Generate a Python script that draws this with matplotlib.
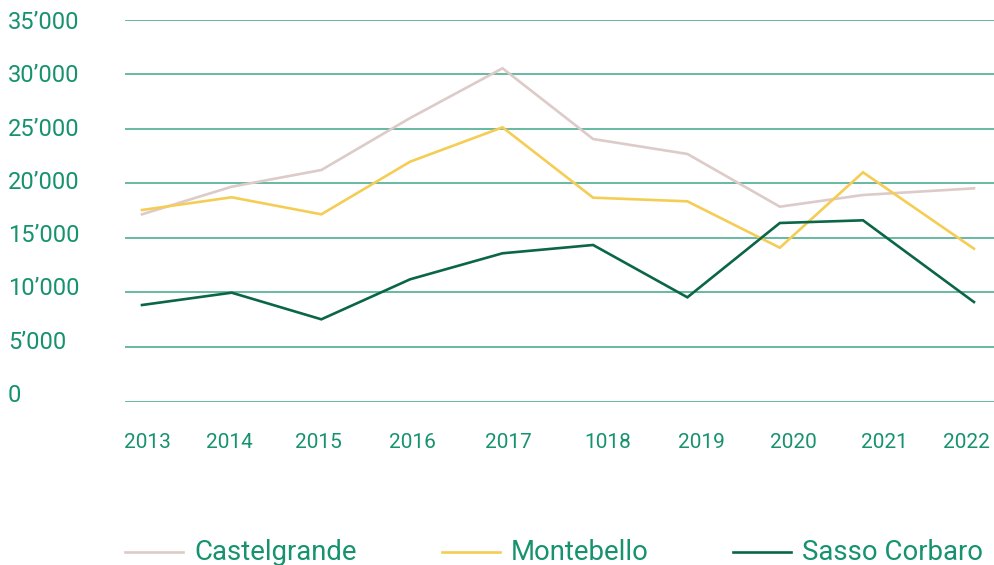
import matplotlib
matplotlib.use("Agg")
import matplotlib.pyplot as plt
from matplotlib.lines import Line2D

# Dati (visitatori per castello)
anni = ["2013", "2014", "2015", "2016", "2017", "1018", "2019", "2020", "2021", "2022"]
# posizioni orizzontali (in "anni")
x_punti = [2013.0, 2013.97, 2014.94, 2015.90, 2016.90, 2017.88, 2018.90, 2019.90, 2020.80, 2022.0]
x_etichette = [2013.06, 2013.94, 2014.91, 2015.93, 2016.96, 2018.04, 2019.05, 2020.05, 2021.03, 2021.92]

castelgrande = [17150, 19680, 21210, 25970, 30530, 24050, 22680, 17850, 18920, 19530]
montebello = [17545, 18710, 17150, 21970, 25120, 18675, 18340, 14090, 21000, 14000]
sasso_corbaro = [8840, 9970, 7530, 11195, 13580, 14340, 9545, 16355, 16600, 9115]

serie = ["Castelgrande", "Montebello", "Sasso Corbaro"]
colori = ["#dccbc8", "#f5cd55", "#0b6647"]

y_ticks = [0, 5000, 10000, 15000, 20000, 25000, 30000, 35000]
y_labels = ["0", "5’000", "10’000", "15’000", "20’000", "25’000", "30’000", "35’000"]

TESTO = "#16926f"
GRIGLIA = "#3fa688"

plt.rcParams["font.family"] = ["Roboto", "DejaVu Sans"]

fig = plt.figure(figsize=(9.94, 5.65), dpi=100)
W, H = 994, 565
ax = fig.add_axes([125 / W, (H - 401.5) / H, (994 - 125) / W, 382 / H])

for valori, colore in zip([castelgrande, montebello, sasso_corbaro], colori):
    ax.plot(x_punti, valori, color=colore, linewidth=1.9, solid_joinstyle="miter", zorder=3)

ax.set_ylim(0, 35000)
ax.set_xlim(2012.816, 2022.217)

for v in y_ticks:
    ax.axhline(v, color=GRIGLIA, linewidth=1.1, zorder=1)

for s in ax.spines.values():
    s.set_visible(False)
ax.set_yticks([])
ax.set_xticks(x_etichette)
ax.set_xticklabels(anni, color=TESTO, fontsize=15)
ax.tick_params(axis="x", length=0, pad=23)

# etichette asse y: leggermente più strette rispetto alla griglia
for v, lab in zip(y_ticks, y_labels):
    ax.text(-117 / 869, (779 + 0.9764 * v) / 35000 - 2.5 / 382, lab, transform=ax.transAxes,
            ha="left", va="center", color=TESTO, fontsize=17, clip_on=False)

# legenda manuale
leg_x = [125, 442, 733]
for nome, colore, x0 in zip(serie, colori, leg_x):
    fig.add_artist(Line2D([x0 / W, (x0 + 58) / W], [(H - 551.5) / H] * 2,
                          color=colore, linewidth=1.9, transform=fig.transFigure))
    fig.text((x0 + 69) / W, (H - 559.5) / H, nome, color=TESTO, fontsize=19.8,
             ha="left", va="baseline")

fig.savefig("out.png", dpi=100)
